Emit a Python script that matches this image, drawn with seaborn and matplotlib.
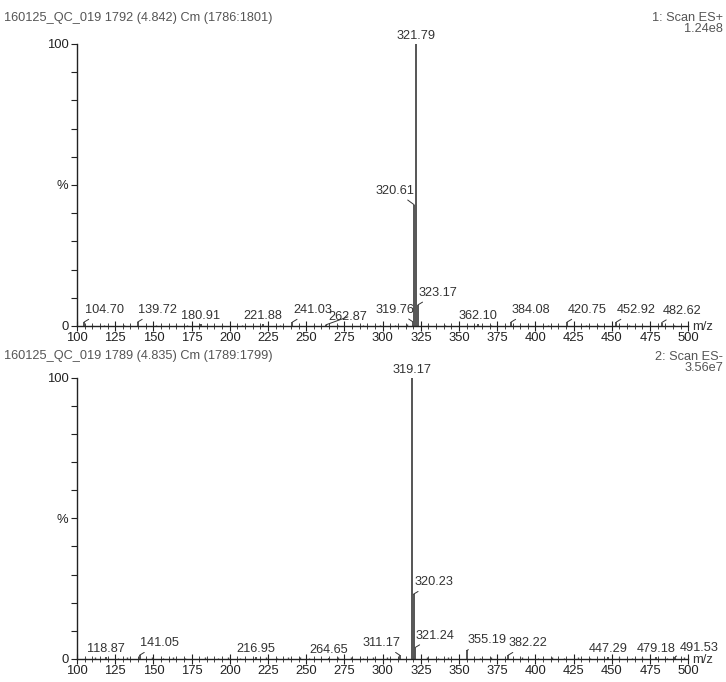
import matplotlib
matplotlib.use("Agg")
import matplotlib.pyplot as plt
import seaborn as sns
import numpy as np

# ---- data ----
# panel 1: ES+ scan
pos_title = "160125_QC_019 1792 (4.842) Cm (1786:1801)"
pos_scan = "1: Scan ES+\n1.24e8"
pos_mz = [104.70, 139.72, 180.91, 221.88, 241.03, 262.87, 319.76, 320.61,
          321.79, 323.17, 362.10, 384.08, 420.75, 452.92, 482.62]
pos_int = [1.4, 1.4, 0.7, 0.7, 1.4, 0.4, 1.5, 43.0,
           100.0, 7.5, 0.8, 1.4, 1.4, 1.4, 1.2]
# where each label sits relative to its peak (pixels)
pos_dx = [20, 20, 0, 0, 20, 22, -18, -19, 0, 20, 0, 20, 20, 20, 20]
pos_dy = [6, 6, 2, 2, 6, 2, 6, 8, 2, 6, 2, 6, 6, 6, 6]
pos_minor_mz = [110, 118, 131, 152, 165, 172, 195, 208, 233, 255, 271, 287,
                298, 308, 316, 330, 341, 355, 371, 395, 408, 433, 441, 461, 470, 491]
pos_minor_int = [0.3, 0.4, 0.3, 0.4, 0.3, 0.5, 0.3, 0.4, 0.3, 0.4, 0.3, 0.5,
                 0.4, 0.3, 0.6, 0.4, 0.3, 0.4, 0.3, 0.4, 0.3, 0.3, 0.4, 0.3, 0.4, 0.3]

# panel 2: ES- scan
neg_title = "160125_QC_019 1789 (4.835) Cm (1789:1799)"
neg_scan = "2: Scan ES-\n3.56e7"
neg_mz = [118.87, 141.05, 216.95, 264.65, 311.17, 319.17, 320.23, 321.24,
          355.19, 382.22, 447.29, 479.18, 491.53]
neg_int = [0.5, 1.3, 0.6, 0.4, 1.3, 100.0, 23.0, 4.0,
           3.0, 1.3, 0.5, 0.5, 0.8]
neg_dx = [0, 20, 0, 0, -18, 0, 20, 20, 20, 20, 0, 0, 24]
neg_dy = [2, 6, 2, 2, 6, 2, 6, 6, 4, 6, 2, 2, 3]
neg_minor_mz = [105, 112, 127, 133, 149, 156, 163, 171, 184, 192, 199, 207,
                224, 231, 238, 246, 252, 271, 279, 287, 294, 303, 329, 336,
                343, 364, 371, 391, 402, 411, 419, 428, 436, 455, 463, 470, 486, 497]
neg_minor_int = [0.4, 0.5, 0.4, 0.6, 0.5, 0.4, 0.5, 0.4, 0.5, 0.4, 0.5, 0.4,
                 0.5, 0.4, 0.6, 0.5, 0.4, 0.5, 0.6, 0.4, 0.5, 0.6, 0.5, 0.4,
                 0.5, 0.4, 0.5, 0.6, 0.4, 0.5, 0.4, 0.5, 0.4, 0.5, 0.4, 0.5, 0.4, 0.5]

sns.set_style("ticks")
plt.rcParams["font.family"] = ["Liberation Sans", "DejaVu Sans"]

fig = plt.figure(figsize=(7.26, 6.82), dpi=100)
ax1 = fig.add_axes([0.106, 0.522, 0.842, 0.4135])
ax2 = fig.add_axes([0.106, 0.034, 0.842, 0.412])

line_col = "#555555"
txt_col = "#333333"
fs = 9.2


def draw_panel(ax, mz, inten, dx, dy, minor_mz, minor_int, title, scan,
               y_title, y_scan):
    ax.vlines(minor_mz, 0, minor_int, color=line_col, lw=1.0)
    ax.vlines(mz, 0, inten, color=line_col, lw=1.4, clip_on=False)
    for m, i, ox, oy in zip(mz, inten, dx, dy):
        ax.annotate(f"{m:.2f}", xy=(m, i), xytext=(ox, oy),
                    textcoords="offset pixels", ha="center", va="bottom",
                    fontsize=fs, color=txt_col, annotation_clip=False,
                    arrowprops=None if ox == 0 else
                    dict(arrowstyle="-", lw=0.7, color=txt_col,
                         shrinkA=0, shrinkB=0))
    ax.set_xlim(100, 500)
    ax.set_ylim(0, 100)
    ax.set_xticks(np.arange(100, 501, 25))
    ax.set_xticks(np.arange(100, 501, 5), minor=True)
    ax.set_yticks(np.arange(0, 101, 10))
    ylab = [""] * 11
    ylab[0], ylab[5], ylab[10] = "0", "%", "100"
    ax.set_yticklabels(ylab)
    ax.tick_params(axis="x", which="major", direction="inout", length=7,
                   width=0.8, labelsize=fs + 0.2, pad=1, colors="#222222")
    ax.tick_params(axis="x", which="minor", direction="inout", length=4,
                   width=0.6)
    ax.tick_params(axis="y", direction="out", length=4, width=0.8,
                   labelsize=fs + 0.2, pad=2, colors="#222222")
    sns.despine(ax=ax)
    for s in ["left", "bottom"]:
        ax.spines[s].set_linewidth(1.0)
        ax.spines[s].set_color("#222222")
    ax.text(1.006, -0.005, "m/z", transform=ax.transAxes, ha="left",
            va="center", fontsize=fs + 0.2, color=txt_col)
    # header texts
    fig.text(0.005, y_title, title, ha="left", va="center", fontsize=fs,
             color="#555555")
    fig.text(0.996, y_scan, scan, ha="right", va="center", fontsize=fs,
             color="#555555", linespacing=0.9)


draw_panel(ax1, pos_mz, pos_int, pos_dx, pos_dy, pos_minor_mz, pos_minor_int,
           pos_title, pos_scan, 0.974, 0.965)
draw_panel(ax2, neg_mz, neg_int, neg_dx, neg_dy, neg_minor_mz, neg_minor_int,
           neg_title, neg_scan, 0.478, 0.469)

fig.savefig("out.png", dpi=100)
